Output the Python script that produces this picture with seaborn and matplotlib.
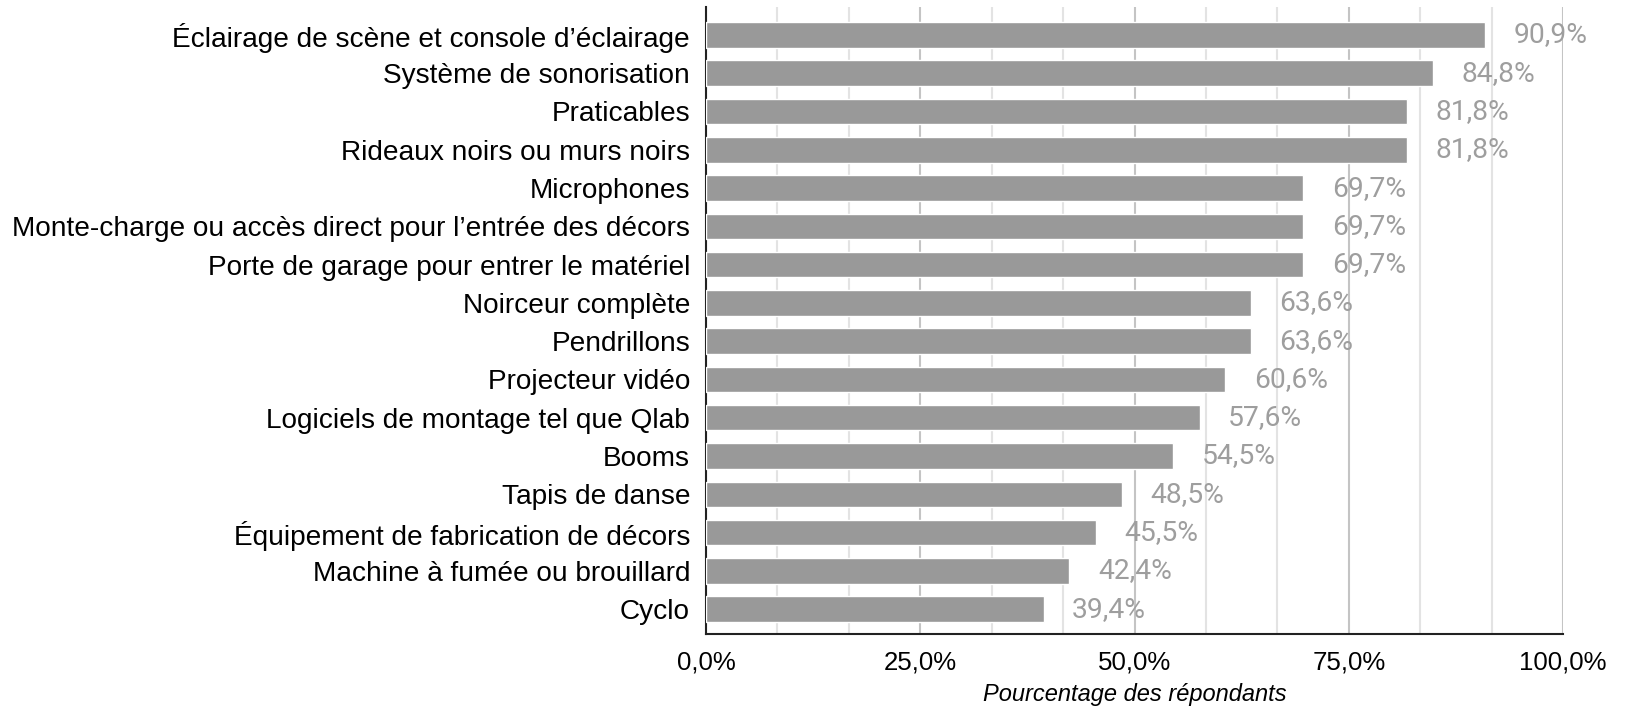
import matplotlib
matplotlib.use("Agg")
import matplotlib.pyplot as plt
import seaborn as sns
import pandas as pd
import numpy as np
from matplotlib.ticker import FixedLocator, FuncFormatter

categories = [
    "Éclairage de scène et console d’éclairage",
    "Système de sonorisation",
    "Praticables",
    "Rideaux noirs ou murs noirs",
    "Microphones",
    "Monte-charge ou accès direct pour l’entrée des décors",
    "Porte de garage pour entrer le matériel",
    "Noirceur complète",
    "Pendrillons",
    "Projecteur vidéo",
    "Logiciels de montage tel que Qlab",
    "Booms",
    "Tapis de danse",
    "Équipement de fabrication de décors",
    "Machine à fumée ou brouillard",
    "Cyclo",
]
values = [90.9, 84.8, 81.8, 81.8, 69.7, 69.7, 69.7, 63.6, 63.6, 60.6, 57.6, 54.5, 48.5, 45.5, 42.4, 39.4]
x_ticks = [0, 25, 50, 75, 100]
x_title = "Pourcentage des répondants"

df = pd.DataFrame({"cat": categories, "val": values})

sns.set_theme(style="white")
plt.rcParams["font.family"] = ["Liberation Sans", "DejaVu Sans"]

fig = plt.figure(figsize=(16.25, 7.08), dpi=100)
ax = fig.add_axes([706 / 1625, 1 - 634 / 708, (1563 - 706) / 1625, (634 - 7) / 708])

sns.barplot(data=df, y="cat", x="val", color="#999999", saturation=1, width=0.667,
            orient="h", ax=ax, zorder=3)

ax.set_xlim(0, 100)
ax.set_ylim(15.65, -0.73)

ax.xaxis.set_major_locator(FixedLocator(x_ticks))
ax.xaxis.set_minor_locator(FixedLocator([i * 100 / 12 for i in range(13)]))
ax.xaxis.set_major_formatter(FuncFormatter(lambda v, p: f"{v:.1f}".replace(".", ",") + "%"))
ax.grid(True, axis="x", which="minor", color="#e3e3e3", linewidth=1.5, zorder=0)
ax.grid(True, axis="x", which="major", color="#c4c4c4", linewidth=1.5, zorder=0)
ax.set_axisbelow(True)

for s in ["top", "right"]:
    ax.spines[s].set_visible(False)
for s in ["left", "bottom"]:
    ax.spines[s].set_color("#222222")
    ax.spines[s].set_linewidth(1.5)
ax.spines["left"].set_zorder(1)

ax.tick_params(axis="y", length=0, pad=11.5, labelsize=20.2, labelcolor="#000000")
ax.tick_params(axis="x", which="both", length=0, pad=12, labelsize=18.6, labelcolor="#000000")

ax.set_ylabel("")
ax.set_xlabel(x_title, fontsize=17, style="italic", color="#000000", labelpad=6)

labels = [f"{v:.1f}".replace(".", ",") + "%" for v in values]
ax.bar_label(ax.containers[0], labels=labels, padding=20.5, fontsize=20.3,
             color="#9e9e9e", family=["Roboto", "DejaVu Sans"])

fig.savefig("out.png", dpi=100)
